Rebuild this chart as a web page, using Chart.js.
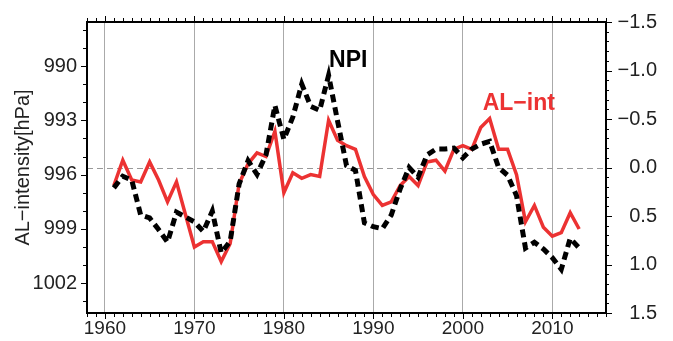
<!DOCTYPE html>
<html>
<head>
<meta charset="utf-8">
<title>AL-intensity and NPI</title>
<script src="https://cdn.jsdelivr.net/npm/chart.js@4/dist/chart.umd.min.js"></script>
<style>
    html, body { margin: 0; padding: 0; background: #fff; }
    #wrap { position: relative; width: 673px; height: 341px; }
</style>
</head>
<body>
<div id="wrap"><canvas id="al-npi"></canvas></div>
<script>
    "use strict";

    // Data
    const years = [1961, 1962, 1963, 1964, 1965, 1966, 1967, 1968, 1969, 1970,
        1971, 1972, 1973, 1974, 1975, 1976, 1977, 1978, 1979, 1980,
        1981, 1982, 1983, 1984, 1985, 1986, 1987, 1988, 1989, 1990,
        1991, 1992, 1993, 1994, 1995, 1996, 1997, 1998, 1999, 2000,
        2001, 2002, 2003, 2004, 2005, 2006, 2007, 2008, 2009, 2010,
        2011, 2012, 2013];

    // Aleutian Low intensity [hPa] (left axis, reversed)
    const alInt = [996.6, 995.2, 996.3, 996.4, 995.3, 996.3, 997.5, 996.4, 998.2, 1000.0,
        999.7, 999.7, 1000.8, 999.8, 996.5, 995.4, 994.8, 995.0, 993.6, 997.0,
        995.9, 996.2, 996.0, 996.1, 993.0, 994.1, 994.4, 994.6, 996.1, 997.1,
        997.7, 997.5, 996.6, 996.1, 996.6, 995.3, 995.2, 995.8, 994.6, 994.4,
        994.6, 993.4, 992.9, 994.6, 994.6, 996.0, 998.6, 997.7, 998.9, 999.4,
        999.2, 998.1, 999.0];

    // NPI anomaly (right axis, reversed)
    const npi = [0.21, 0.09, 0.13, 0.49, 0.52, 0.64, 0.77, 0.46, 0.51, 0.56,
        0.66, 0.45, 0.88, 0.76, 0.17, -0.07, 0.07, -0.13, -0.64, -0.29,
        -0.52, -0.86, -0.63, -0.59, -0.95, -0.48, -0.02, 0.03, 0.57, 0.61,
        0.63, 0.49, 0.22, 0.00, 0.10, -0.13, -0.19, -0.19, -0.20, -0.10,
        -0.19, -0.24, -0.27, 0.00, 0.08, 0.29, 0.83, 0.77, 0.84, 0.93,
        1.05, 0.73, 0.83];

    // Tick labels
    const xTicks = [1960, 1970, 1980, 1990, 2000, 2010];
    const leftTicks = [990, 993, 996, 999, 1002];
    const rightTicks = [-1.5, -1.0, -0.5, 0.0, 0.5, 1.0, 1.5];

    const FONT = "'Liberation Sans', Arial, Helvetica, sans-serif";
    const RED = "rgb(236, 50, 50)";

    const alPoints = years.map((y, i) => ({ x: y, y: alInt[i] }));
    const npiPoints = years.map((y, i) => ({ x: y, y: npi[i] }));

    function fmtRight(v) {
        const s = Math.abs(v).toFixed(1);
        return v < 0 ? "\u2212" + s : s;
    }

    function setTicks(list) {
        return function (scale) {
            scale.ticks = list.map(v => ({ value: v }));
        };
    }

    // Frame, outward tick marks, zero line and series labels
    const decorPlugin = {
        id: "decor",
        beforeDatasetsDraw(chart) {
            const ctx = chart.ctx;
            const a = chart.chartArea;
            const y0 = chart.scales.y2.getPixelForValue(0);
            ctx.save();
            ctx.strokeStyle = "#999";
            ctx.lineWidth = 1;
            ctx.setLineDash([6, 4]);
            ctx.beginPath();
            ctx.moveTo(a.left, Math.round(y0) + 0.5);
            ctx.lineTo(a.right, Math.round(y0) + 0.5);
            ctx.stroke();
            ctx.restore();
        },
        afterDatasetsDraw(chart) {
            const ctx = chart.ctx;
            const a = chart.chartArea;
            const xs = chart.scales.x;
            const ys = chart.scales.y;
            const y2 = chart.scales.y2;
            ctx.save();
            ctx.strokeStyle = "#000";
            ctx.lineWidth = 1;
            ctx.beginPath();
            // top and bottom: yearly ticks
            for (let yr = 1958; yr <= 2016; yr++) {
                const px = Math.round(xs.getPixelForValue(yr)) + 0.5;
                const len = yr % 10 === 0 ? 6 : 4;
                ctx.moveTo(px, a.top);
                ctx.lineTo(px, a.top - len);
                ctx.moveTo(px, a.bottom);
                ctx.lineTo(px, a.bottom + len);
            }
            // left: every 1 hPa
            for (let v = 988; v <= 1003; v++) {
                const py = Math.round(ys.getPixelForValue(v)) + 0.5;
                const len = (v - 990) % 3 === 0 ? 6 : 4;
                ctx.moveTo(a.left, py);
                ctx.lineTo(a.left - len, py);
            }
            // right: every 0.1
            for (let k = -15; k <= 15; k++) {
                const py = Math.round(y2.getPixelForValue(k / 10)) + 0.5;
                const len = k % 5 === 0 ? 6 : 3;
                ctx.moveTo(a.right, py);
                ctx.lineTo(a.right + len, py);
            }
            ctx.stroke();

            // frame
            ctx.lineWidth = 2;
            ctx.strokeRect(a.left, a.top, a.right - a.left, a.bottom - a.top);

            // series labels
            ctx.font = "bold 23px " + FONT;
            ctx.textAlign = "center";
            ctx.textBaseline = "middle";
            ctx.fillStyle = "#000";
            ctx.fillText("NPI", xs.getPixelForValue(1987.2), y2.getPixelForValue(-1.1));
            ctx.fillStyle = RED;
            ctx.fillText("AL\u2212int", xs.getPixelForValue(2006.25), ys.getPixelForValue(992.1));
            ctx.restore();
        }
    };

    const ctx1 = document.getElementById("al-npi").getContext("2d");
    new Chart(ctx1, {
        type: "line",
        data: {
            datasets: [{
                label: "NPI",
                data: npiPoints,
                yAxisID: "y2",
                borderColor: "#000",
                borderWidth: 5,
                borderDash: [8, 5],
                borderCapStyle: "butt",
                borderJoinStyle: "miter",
                pointRadius: 0,
                tension: 0,
                fill: false,
                order: 0
            },
            {
                label: "AL-int",
                data: alPoints,
                yAxisID: "y",
                borderColor: RED,
                borderWidth: 3.5,
                borderJoinStyle: "miter",
                pointRadius: 0,
                tension: 0,
                fill: false,
                order: 1
            }]
        },
        plugins: [decorPlugin],
        options: {
            responsive: true,
            maintainAspectRatio: false,
            animation: false,
            events: [],
            layout: { padding: { top: 16, left: 0, right: 16, bottom: 0 } },
            plugins: {
                legend: { display: false },
                tooltip: { enabled: false }
            },
            scales: {
                x: {
                    type: "linear",
                    min: 1958,
                    max: 2016,
                    afterBuildTicks: setTicks(xTicks),
                    afterFit: s => { s.height = 28; },
                    grid: { color: "#aaa", lineWidth: 1, drawTicks: false },
                    border: { display: false },
                    ticks: {
                        padding: 4,
                        color: "#222",
                        font: { family: FONT, size: 19 },
                        callback: v => String(v)
                    }
                },
                y: {
                    position: "left",
                    reverse: true,
                    min: 987.57,
                    max: 1003.64,
                    afterBuildTicks: setTicks(leftTicks),
                    afterFit: s => { s.width = 87; },
                    grid: { display: false, drawTicks: false },
                    border: { display: false },
                    title: {
                        display: true,
                        text: "AL\u2212intensity[hPa]",
                        color: "#222",
                        font: { family: FONT, size: 20 },
                        padding: { top: 11, bottom: 0 }
                    },
                    ticks: {
                        padding: 10,
                        color: "#222",
                        font: { family: FONT, size: 20 },
                        callback: v => String(v)
                    }
                },
                y2: {
                    position: "right",
                    reverse: true,
                    min: -1.5,
                    max: 1.5,
                    afterBuildTicks: setTicks(rightTicks),
                    afterFit: s => { s.width = 51; },
                    grid: { display: false, drawTicks: false },
                    border: { display: false },
                    ticks: {
                        padding: 9.5,
                        crossAlign: "far",
                        color: "#222",
                        font: { family: FONT, size: 20 },
                        callback: v => fmtRight(v)
                    }
                }
            }
        }
    });
</script>
</body>
</html>
